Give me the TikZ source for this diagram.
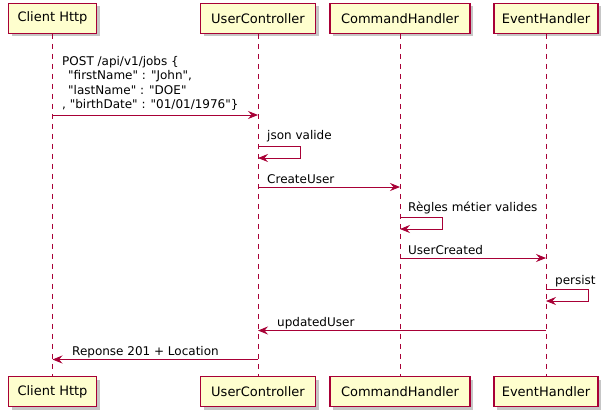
\documentclass[tikz,border=0pt]{standalone}
\usepackage{fontspec}
\setmainfont{DejaVu Sans}[Ligatures=TeXOff]
\usetikzlibrary{arrows.meta, shadows}
\definecolor{umlred}{HTML}{A80036}
\definecolor{umlfill}{HTML}{FEFECE}
\tikzset{
  actor/.style={draw=umlred, fill=umlfill, line width=1.2pt, minimum height=30pt, inner xsep=0pt,
    font=\fontsize{13}{15}\selectfont,
    drop shadow={shadow xshift=3pt, shadow yshift=-3pt, fill=black!50, opacity=.45}},
  life/.style={umlred, dash pattern=on 5pt off 5pt, line width=.8pt},
  msg/.style={umlred, line width=.8pt, -{Stealth[length=10pt, width=8pt, inset=3.5pt]}},
  lbl/.style={anchor=base west, inner sep=0pt, font=\fontsize{12}{14.4}\selectfont},
}
\begin{document}
\begin{tikzpicture}[x=1pt, y=-1pt]
            \useasboundingbox (0, 0) rectangle (608, 418);
            % participants
            \node[actor, minimum width=88pt](cliT) at (52.5, 18.3){Client Http};
            \node[actor, minimum width=115pt](ucT) at (258, 18.3){UserController};
            \node[actor, minimum width=140pt](chT) at (400, 18.3){CommandHandler};
            \node[actor, minimum width=104pt](ehT) at (546, 18.3){EventHandler};
            \node[actor, minimum width=88pt](cliB) at (52.5, 391.5){Client Http};
            \node[actor, minimum width=115pt](ucB) at (258, 391.5){UserController};
            \node[actor, minimum width=140pt](chB) at (400, 391.5){CommandHandler};
            \node[actor, minimum width=104pt](ehB) at (546, 391.5){EventHandler};
            % lifelines
            \draw[life](cliT)--(cliB);
            \draw[life](ucT)--(ucB);
            \draw[life](chT)--(chB);
            \draw[life](ehT)--(ehB);
            % messages
            \draw[msg](cliT |- 0, 115)--(ucT |- 0, 115);
            \node[lbl, align=left](post) at (62, 108.5){POST /api/v1/jobs \{\\
              \hspace*{6pt}"firstName" : "John",\\
              \hspace*{6pt}"lastName" : "DOE"\\
              , "birthDate" : "01/01/1976"\}};
            \draw[msg](ucT |- 0, 146)--++(42, 0)--++(0, 12)--(ucT |- 0, 158);
            \node[lbl](json) at (267, 139.5){json valide};
            \draw[msg](ucT |- 0, 187)--(chT |- 0, 187);
            \node[lbl](create) at (267, 183){CreateUser};
            \draw[msg](chT |- 0, 217)--++(42, 0)--++(0, 12)--(chT |- 0, 229);
            \node[lbl](regles) at (408, 211.5){Règles métier valides};
            \draw[msg](chT |- 0, 258)--(ehT |- 0, 258);
            \node[lbl](created) at (408, 254){UserCreated};
            \draw[msg](ehT |- 0, 289)--++(42, 0)--++(0, 12)--(ehT |- 0, 301);
            \node[lbl](persist) at (555, 284){persist};
            \draw[msg](ehT |- 0, 330.5)--(ucT |- 0, 330.5);
            \node[lbl](updated) at (277, 326){updatedUser};
            \draw[msg](ucT |- 0, 359.5)--(cliT |- 0, 359.5);
            \node[lbl](reponse) at (72, 355){Reponse 201 + Location};
\end{tikzpicture}
\end{document}
